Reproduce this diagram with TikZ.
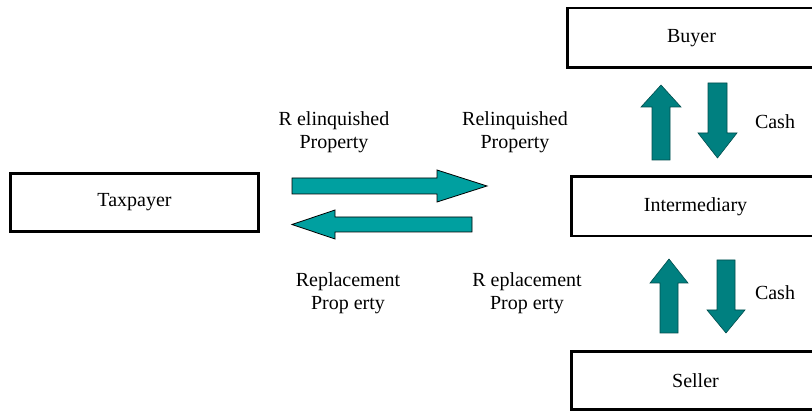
\documentclass[tikz,border=0pt]{standalone}
\usepackage{fontspec}
\setmainfont{Liberation Serif}
\definecolor{hteal}{RGB}{0,160,160}
\definecolor{vteal}{RGB}{0,128,128}
\begin{document}
\begin{tikzpicture}[x=1pt,y=-1pt,
  box/.style={draw=black,line width=2.7pt,fill=white,minimum width=248pt,
    inner sep=0pt,font=\fontsize{20}{23}\selectfont},
  lbl/.style={font=\fontsize{20}{23}\selectfont,align=center,inner sep=0pt},
  harrow/.style={fill=hteal,draw=black,line width=0.8pt,line join=miter},
  varrow/.style={fill=vteal,draw=vteal!60!black,line width=0.6pt,line join=miter}]
\useasboundingbox (0,0) rectangle (812,411);
% boxes
\node[box,minimum height=58pt] (tax) at (134.5,202.5) {Taxpayer};
\node[box,minimum height=59.5pt] (buyer) at (691.5,37.75) {Buyer};
\node[box,minimum height=59.5pt] (inter) at (695.5,206.25) {Intermediary};
\node[box,minimum height=58pt] (seller) at (695.5,380.5) {Seller};
% horizontal block arrows
\draw[harrow] (292,178) -- (437,178) -- (437,170) -- (487,186) -- (437,202) -- (437,194) -- (292,194) -- cycle;
\draw[harrow] (472,217) -- (335,217) -- (335,210) -- (292,224.5) -- (335,239) -- (335,232) -- (472,232) -- cycle;
% vertical block arrows (upper)
\draw[varrow] (652,160) -- (652,107) -- (641,107) -- (661,85) -- (681,107) -- (670,107) -- (670,160) -- cycle;
\draw[varrow] (708,83) -- (727,83) -- (727,133) -- (737,133) -- (717.5,158) -- (698,133) -- (708,133) -- cycle;
% vertical block arrows (lower)
\draw[varrow] (660,333) -- (660,283) -- (650,283) -- (669,259) -- (688,283) -- (678,283) -- (678,333) -- cycle;
\draw[varrow] (717,260) -- (735,260) -- (735,310) -- (745,310) -- (726,333) -- (707,310) -- (717,310) -- cycle;
% labels
\node[lbl] (relL) at (334,132.5) {R elinquished\\Property};
\node[lbl] (relR) at (515,132.5) {Relinquished\\Property};
\node[lbl] (repL) at (348,293) {Replacement\\Prop erty};
\node[lbl] (repR) at (527,293) {R eplacement\\Prop erty};
\node[lbl] (cash1) at (775,122) {Cash};
\node[lbl] (cash2) at (775,293) {Cash};
\end{tikzpicture}
\end{document}
